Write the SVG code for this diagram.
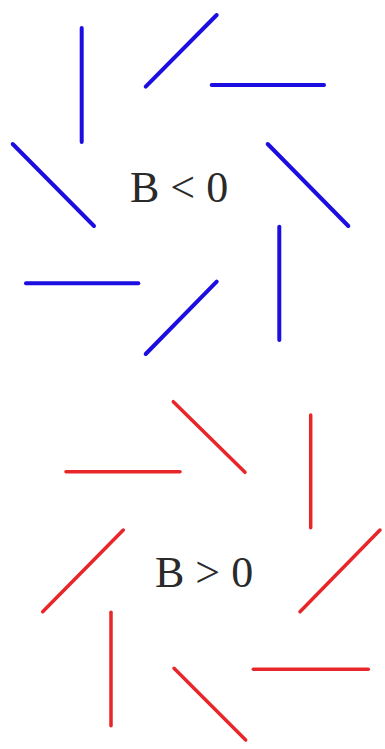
<svg xmlns="http://www.w3.org/2000/svg" width="385" height="749" viewBox="0 0 385 749">
<style>
.b{stroke:#1c0ee0;stroke-width:4;stroke-linecap:round;fill:none}
.r{stroke:#e8262a;stroke-width:3.5;stroke-linecap:round;fill:none}
.t{font-family:"Liberation Serif",serif;font-size:44px;fill:#2a2a2a}
</style>
<rect width="385" height="749" fill="#fff"/>
<g id="connectors">
<g id="blue">
<line class="b" x1="81.7" y1="28" x2="81.7" y2="142"/>
<line class="b" x1="145.7" y1="86.7" x2="216.7" y2="15"/>
<line class="b" x1="211.7" y1="85" x2="324" y2="85"/>
<line class="b" x1="12.7" y1="144" x2="94" y2="226"/>
<line class="b" x1="267.7" y1="144" x2="348.3" y2="226"/>
<line class="b" x1="279.3" y1="226.7" x2="279.3" y2="340"/>
<line class="b" x1="26" y1="283.3" x2="138.3" y2="283.3"/>
<line class="b" x1="145.7" y1="354" x2="216.7" y2="281.7"/>
</g>
<g id="red">
<line class="r" x1="173.3" y1="401.7" x2="245" y2="472.3"/>
<line class="r" x1="310.7" y1="415" x2="310.7" y2="527.7"/>
<line class="r" x1="66" y1="471.7" x2="180" y2="471.7"/>
<line class="r" x1="123.3" y1="530" x2="42.7" y2="611.7"/>
<line class="r" x1="380" y1="530" x2="300" y2="611.7"/>
<line class="r" x1="111" y1="612.3" x2="111" y2="725.7"/>
<line class="r" x1="253.3" y1="669.3" x2="368.3" y2="669.3"/>
<line class="r" x1="174" y1="668.3" x2="245.7" y2="740"/>
</g>
</g>
<g id="label-neg"><text class="t" x="130" y="201.7">B &lt; 0</text></g>
<g id="label-pos"><text class="t" x="155" y="586.7">B &gt; 0</text></g>
</svg>
